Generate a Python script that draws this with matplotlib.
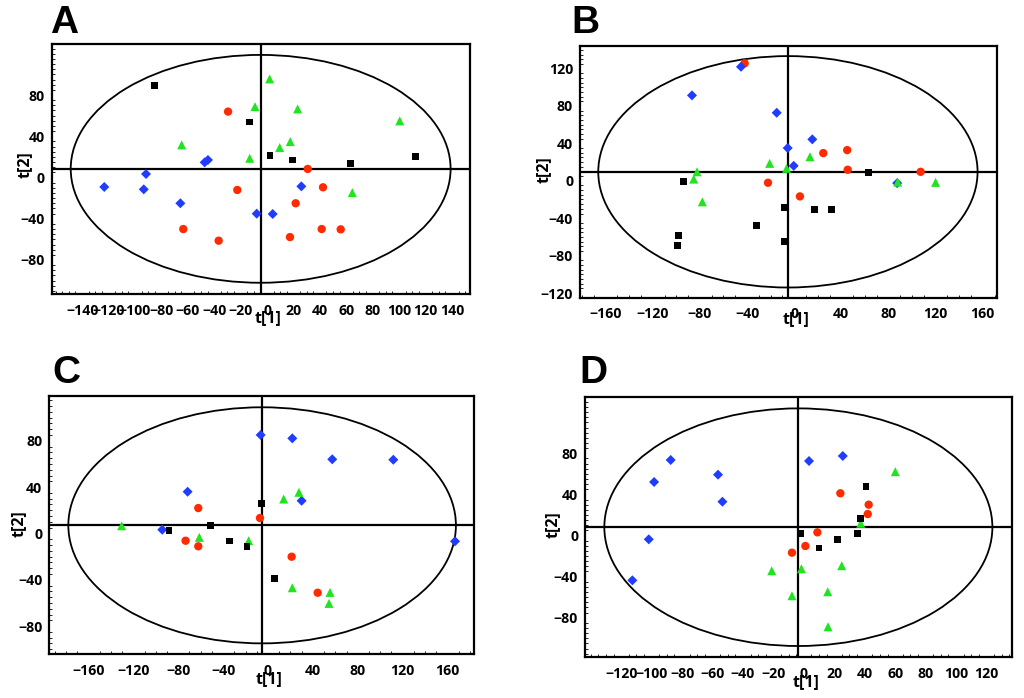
import matplotlib
matplotlib.use("Agg")
import matplotlib.pyplot as plt
from matplotlib.patches import Ellipse
from matplotlib.ticker import MultipleLocator

plt.rcParams['font.family'] = ['Open Sans', 'DejaVu Sans']
plt.rcParams['font.weight'] = 'bold'

# ---- panel A scores (t[1], t[2]) ----
a_black_x = [-85.3, -13.4, 2.3, 19.5, 63.4, 112.3]
a_black_y = [89.5, 53.9, 21.2, 17.0, 13.8, 20.2]
a_red_x = [-29.5, -22.5, 30.8, 42.4, 21.7, -63.4, -36.6, 17.4, 41.4, 55.8]
a_red_y = [63.9, -12.1, 8.3, -9.5, -25.0, -50.0, -61.3, -57.8, -50.0, -50.3]
a_green_x = [2.0, -9.1, 23.2, 100.5, -64.6, 9.6, 17.6, -13.1, 64.6]
a_green_y = [95.6, 68.7, 66.5, 54.9, 31.6, 29.0, 34.8, 18.6, -14.7]
a_blue_x = [-47.2, -44.7, -91.6, -123.2, -93.3, -65.6, -7.8, 4.3, 26.0]
a_blue_y = [14.7, 17.0, 3.4, -9.2, -11.5, -25.0, -35.1, -35.4, -8.6]

# ---- panel B ----
b_black_x = [-93.7, 62.9, -8.7, 17.0, 31.8, -32.1, -98.3, -98.8, -8.4]
b_black_y = [-0.7, 8.6, -28.5, -30.6, -30.6, -47.7, -58.4, -68.8, -65.2]
b_red_x = [-42.0, 24.7, 45.0, 45.4, 107.3, -22.2, 4.9]
b_red_y = [125.6, 29.6, 32.8, 11.8, 9.6, -2.1, -16.7]
b_green_x = [-82.4, -85.2, -77.9, -20.8, -6.4, 13.4, 87.8, 120.0]
b_green_y = [9.6, 1.8, -22.5, 18.6, 13.3, 25.7, -1.4, -1.7]
b_blue_x = [-45.1, -86.7, -14.8, 15.4, -5.5, -0.4, 87.4]
b_blue_y = [121.9, 91.3, 72.7, 44.3, 35.0, 16.0, -2.5]

# ---- panel C ----
c_black_x = [-5.6, -88.2, -51.4, -34.1, -18.7, 6.0]
c_black_y = [26.0, 2.7, 6.6, -6.6, -11.1, -39.1]
c_red_x = [-62.1, -7.1, -73.4, -62.1, 21.1, 44.3]
c_red_y = [21.9, 13.3, -6.3, -11.1, -20.1, -51.2]
c_green_x = [-130.4, -61.2, -17.2, 14.0, 27.6, 21.7, 55.3, 54.4]
c_green_y = [6.6, -3.4, -6.3, 29.7, 35.5, -46.9, -50.9, -60.4]
c_blue_x = [-6.5, 21.7, 57.3, 111.7, -71.6, 30.0, -94.2, 166.7]
c_blue_y = [85.0, 82.1, 64.0, 63.6, 36.0, 28.2, 3.2, -6.8]

# ---- panel D ----
d_black_x = [40.9, 37.4, -2.0, 10.0, 22.3, 35.0]
d_black_y = [47.9, 16.7, 1.8, -12.2, -4.1, 1.8]
d_red_x = [24.0, 42.6, 42.0, 8.9, 1.0, -7.8]
d_red_y = [41.1, 30.0, 20.9, 3.1, -10.2, -16.7]
d_green_x = [60.1, 37.4, -21.1, -1.6, 24.9, -7.8, 15.7, 15.9]
d_green_y = [62.1, 11.9, -34.3, -32.3, -29.4, -58.6, -54.7, -88.8]
d_blue_x = [-87.5, -98.4, -56.4, -53.5, 3.4, 25.6, -101.9, -112.7]
d_blue_y = [73.5, 52.1, 59.2, 32.9, 72.5, 77.4, -3.7, -43.6]

# Hotelling ellipse (center x, center y, semi x, semi y) and origin lines
ellipses = {'A': (-4.8, 8.4, 143.8, 110.5), 'B': (-5.3, 9.6, 160.9, 123.7),
            'C': (-5.2, 7.0, 172.7, 101.9), 'D': (-3.6, 8.1, 127.5, 115.6)}
origins = {'A': (-4.5, 8.3), 'B': (-5.0, 9.6), 'C': (-5.1, 7.2), 'D': (-3.6, 8.3)}

panels = {
    'A': dict(pos=[0.0505, 0.5788, 0.4085, 0.3582], xlim=(-163, 153.7), ylim=(-113, 129.5),
              xstep=20, xr=(-140, 140), ystep=40, yr=(-80, 80),
              data=(a_black_x, a_black_y, a_red_x, a_red_y, a_green_x, a_green_y, a_blue_x, a_blue_y),
              xl=(0.517, -0.096), yl=(-0.064, 0.516), letter=(0.049, 0.9527)),
    'B': dict(pos=[0.5664, 0.5735, 0.4069, 0.3610], xlim=(-181.7, 171.8), ylim=(-125, 144.4),
              xstep=40, xr=(-160, 160), ystep=40, yr=(-120, 120),
              data=(b_black_x, b_black_y, b_red_x, b_red_y, b_green_x, b_green_y, b_blue_x, b_blue_y),
              xl=(0.518, -0.086), yl=(-0.088, 0.507), letter=(0.558, 0.9527)),
    'C': dict(pos=[0.0481, 0.0630, 0.4151, 0.3701], xlim=(-194.9, 183.9), ylim=(-104.1, 118.9),
              xstep=40, xr=(-160, 160), ystep=40, yr=(-80, 80),
              data=(c_black_x, c_black_y, c_red_x, c_red_y, c_green_x, c_green_y, c_blue_x, c_blue_y),
              xl=(0.518, -0.098), yl=(-0.073, 0.506), letter=(0.051, 0.4508)),
    'D': dict(pos=[0.5713, 0.0583, 0.4167, 0.3734], xlim=(-143.8, 136.6), ylim=(-118.5, 135.1),
              xstep=20, xr=(-120, 120), ystep=40, yr=(-80, 80),
              data=(d_black_x, d_black_y, d_red_x, d_red_y, d_green_x, d_green_y, d_blue_x, d_blue_y),
              xl=(0.518, -0.094), yl=(-0.076, 0.508), letter=(0.566, 0.4508)),
}

fig = plt.figure(figsize=(10.24, 6.98), dpi=100)

for name, p in panels.items():
    ax = fig.add_axes(p['pos'])
    bx, by, rx, ry, gx, gy, ux, uy = p['data']
    ox, oy = origins[name]
    ax.axhline(oy, color='black', lw=1.6, zorder=1)
    ax.axvline(ox, color='black', lw=1.6, zorder=1)
    ex, ey, sx, sy = ellipses[name]
    ax.add_patch(Ellipse((ex, ey), 2 * sx, 2 * sy, fill=False, ec='black', lw=1.3, zorder=1))

    ax.scatter(rx, ry, marker='o', s=36, color='#ff2a00', edgecolors='none', zorder=3)
    ax.scatter(ux, uy, marker='D', s=26, color='#1f3cff', edgecolors='none', zorder=4)
    ax.scatter(gx, gy, marker='^', s=42, color='#1ee51e', edgecolors='none', zorder=5)
    ax.scatter(bx, by, marker='s', s=24, color='black', edgecolors='none', zorder=6)

    ax.set_xlim(*p['xlim'])
    ax.set_ylim(*p['ylim'])
    ax.set_xticks(range(p['xr'][0], p['xr'][1] + 1, p['xstep']))
    ax.set_yticks(range(p['yr'][0], p['yr'][1] + 1, p['ystep']))
    ax.xaxis.set_minor_locator(MultipleLocator(p['xstep'] / 4))
    ax.yaxis.set_minor_locator(MultipleLocator(p['ystep'] / 8))
    ax.tick_params(which='major', length=0, labelsize=10.2, pad=7)
    ax.tick_params(axis='y', which='major', pad=5)
    ax.tick_params(which='minor', direction='in', length=2, width=0.6)
    for lab in ax.get_xticklabels() + ax.get_yticklabels():
        lab.set_fontweight('bold')
    for sp in ax.spines.values():
        sp.set_linewidth(1.6)

    ax.text(p['xl'][0], p['xl'][1], 't[1]', transform=ax.transAxes, ha='center', va='center',
            fontsize=11.5, fontweight='bold')
    ax.text(p['yl'][0], p['yl'][1], 't[2]', transform=ax.transAxes, ha='center', va='center',
            rotation=90, fontsize=11.5, fontweight='bold')
    fig.text(p['letter'][0], p['letter'][1], name, fontsize=28, fontweight='bold',
             family=['Liberation Sans', 'DejaVu Sans'], ha='left', va='baseline')

fig.savefig('out.png', dpi=100)
